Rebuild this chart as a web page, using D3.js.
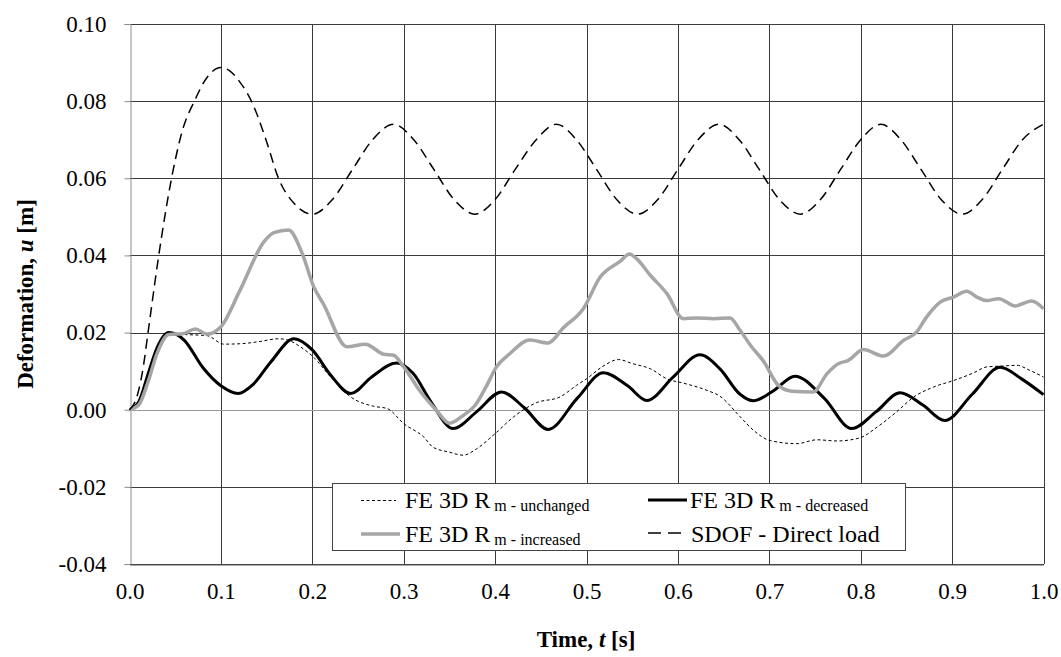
<!DOCTYPE html>
<html><head><meta charset="utf-8">
<script src="https://cdn.jsdelivr.net/npm/d3@7"></script>
<style>
body{margin:0;background:#fff;}
svg{display:block;}
svg text{font-family:"Liberation Serif","Times New Roman",serif;}
</style></head>
<body><svg id="c" width="1061" height="657"></svg>
<script>
const xTicks=[0,0.1,0.2,0.3,0.4,0.5,0.6,0.7,0.8,0.9,1.0];
const yTicks=[-0.04,-0.02,0,0.02,0.04,0.06,0.08,0.10];

const unchanged=[[0,0],[0.01,0.002],[0.02,0.009],[0.03,0.016],[0.043,0.0198],[0.06,0.0195],[0.085,0.0192],[0.103,0.017],[0.121,0.0171],[0.143,0.0177],[0.163,0.0184],[0.174,0.018],[0.187,0.0163],[0.201,0.0137],[0.22,0.0085],[0.242,0.0033],[0.267,0.0009],[0.282,0.0003],[0.3,-0.0036],[0.322,-0.0071],[0.332,-0.0097],[0.35,-0.011],[0.365,-0.0118],[0.38,-0.0101],[0.4,-0.0062],[0.42,-0.0019],[0.445,0.0018],[0.471,0.0033],[0.489,0.0063],[0.5,0.008],[0.517,0.0111],[0.535,0.013],[0.551,0.0119],[0.57,0.0106],[0.588,0.008],[0.606,0.0069],[0.632,0.005],[0.646,0.0035],[0.668,-0.0018],[0.683,-0.0054],[0.701,-0.008],[0.73,-0.0088],[0.752,-0.0078],[0.774,-0.0081],[0.799,-0.0073],[0.818,-0.0045],[0.839,-0.0006],[0.858,0.0033],[0.88,0.0059],[0.902,0.0076],[0.923,0.0095],[0.938,0.0111],[0.953,0.0113],[0.971,0.0115],[0.985,0.0102],[1.0,0.0085]];

const decreased=[[0,0],[0.01,0.002],[0.02,0.009],[0.03,0.016],[0.043,0.020],[0.06,0.018],[0.08,0.011],[0.1,0.0062],[0.119,0.0042],[0.135,0.0065],[0.155,0.0125],[0.18,0.0184],[0.2,0.0155],[0.22,0.009],[0.242,0.0042],[0.265,0.0085],[0.292,0.0121],[0.31,0.0095],[0.33,0.002],[0.354,-0.0049],[0.38,-0.0005],[0.407,0.0046],[0.432,0.0005],[0.458,-0.0051],[0.49,0.003],[0.5185,0.0096],[0.545,0.0062],[0.566,0.0024],[0.595,0.0085],[0.624,0.01425],[0.646,0.0106],[0.668,0.004],[0.6825,0.0023],[0.705,0.005],[0.728,0.0087],[0.76,0.003],[0.79,-0.0049],[0.817,-0.0005],[0.843,0.0044],[0.868,0.0012],[0.892,-0.0028],[0.922,0.004],[0.9526,0.011],[0.976,0.008],[1.0,0.0039]];

const increased=[[0,0],[0.01,0.0012],[0.02,0.007],[0.03,0.0145],[0.043,0.0195],[0.058,0.0197],[0.072,0.0209],[0.085,0.0196],[0.1,0.0215],[0.121,0.031],[0.147,0.0435],[0.158,0.0459],[0.174,0.0466],[0.189,0.0405],[0.2015,0.0319],[0.212,0.0275],[0.238,0.0163],[0.258,0.017],[0.278,0.0144],[0.289,0.0141],[0.3,0.0111],[0.318,0.0048],[0.336,-0.0002],[0.35,-0.0035],[0.365,-0.0015],[0.378,0.0011],[0.39,0.0059],[0.4015,0.0111],[0.416,0.0145],[0.438,0.0181],[0.458,0.0173],[0.475,0.0213],[0.4965,0.0262],[0.515,0.0344],[0.537,0.0385],[0.547,0.0404],[0.555,0.0391],[0.57,0.0348],[0.588,0.0301],[0.606,0.0236],[0.621,0.0238],[0.639,0.0236],[0.657,0.0238],[0.668,0.0206],[0.681,0.0162],[0.693,0.0128],[0.71,0.0063],[0.7245,0.0048],[0.748,0.0046],[0.763,0.0093],[0.7755,0.0119],[0.7865,0.0128],[0.803,0.0156],[0.825,0.0139],[0.847,0.018],[0.861,0.0201],[0.872,0.024],[0.887,0.0279],[0.9015,0.0292],[0.916,0.0307],[0.927,0.0292],[0.938,0.0283],[0.951,0.0288],[0.969,0.0269],[0.987,0.0282],[1.0,0.0262]];

const sdof=[[0,0],[0.005,0.0015],[0.01,0.005],[0.015,0.011],[0.02,0.0195],[0.032,0.040],[0.046,0.060],[0.058,0.0725],[0.071,0.080],[0.085,0.0862],[0.1,0.0887],[0.11,0.0878],[0.12,0.0852],[0.134,0.0797],[0.15,0.0695],[0.163,0.060],[0.18,0.0535],[0.2,0.0507],[0.222,0.0545],[0.244,0.0623],[0.266,0.070],[0.289,0.074],[0.311,0.070],[0.333,0.0623],[0.355,0.0545],[0.378,0.0507],[0.4,0.0545],[0.422,0.0623],[0.445,0.070],[0.467,0.074],[0.489,0.070],[0.511,0.0623],[0.533,0.0545],[0.556,0.0507],[0.578,0.0545],[0.6,0.0623],[0.622,0.070],[0.645,0.074],[0.667,0.070],[0.689,0.0623],[0.711,0.0545],[0.734,0.0507],[0.756,0.0545],[0.778,0.0623],[0.8,0.070],[0.822,0.074],[0.844,0.070],[0.866,0.0623],[0.888,0.0545],[0.911,0.0507],[0.933,0.0545],[0.955,0.0623],[0.977,0.070],[1.0,0.074]];

const svg=d3.select("#c");
const x=d3.scaleLinear().domain([0,1]).range([129.5,1043.5]);
const y=d3.scaleLinear().domain([-0.04,0.10]).range([564,24]);
const SERIF='"Liberation Serif","Times New Roman",serif';

// grid
const g=svg.append("g");
g.selectAll("line.v").data(xTicks.slice(1)).join("line")
 .attr("x1",d=>Math.round(x(d))+0.5).attr("x2",d=>Math.round(x(d))+0.5)
 .attr("y1",y(0.10)).attr("y2",y(-0.04)).attr("stroke","#3a3a3a").attr("stroke-width",1);
g.selectAll("line.h").data(yTicks.filter(d=>d!==0)).join("line")
 .attr("x1",x(0)).attr("x2",x(1)+0.5)
 .attr("y1",d=>Math.round(y(d))+0.5).attr("y2",d=>Math.round(y(d))+0.5)
 .attr("stroke","#3a3a3a").attr("stroke-width",1);
g.append("line").attr("x1",x(0)).attr("x2",x(1)+0.5)
 .attr("y1",Math.round(y(0))+0.5).attr("y2",Math.round(y(0))+0.5)
 .attr("stroke","#9a9a9a").attr("stroke-width",1.2);

// axes
const fmtY=d=>d3.format(".2f")(d).replace("\u2212","-");
const yAxis=d3.axisLeft(y).tickValues(yTicks).tickFormat(fmtY).tickSize(6).tickPadding(18);
const ya=svg.append("g").attr("transform",`translate(${Math.round(x(0))+0.5},0)`).call(yAxis).attr("font-family",SERIF);
ya.select(".domain").attr("stroke","#8c8c8c");
ya.selectAll(".tick line").attr("stroke","#8c8c8c");
ya.selectAll("text").attr("font-size",23).attr("fill","#000");

const xAxis=d3.axisBottom(x).tickValues(xTicks).tickFormat(d3.format(".1f")).tickSize(0).tickPadding(18);
const xa=svg.append("g").attr("transform",`translate(0,${Math.round(y(-0.04))+0.5})`).call(xAxis).attr("font-family",SERIF);
xa.select(".domain").attr("stroke","#555");
xa.selectAll("text").attr("font-size",23).attr("fill","#000");

// series
const line=d3.line().x(d=>x(d[0])).y(d=>y(d[1])).curve(d3.curveMonotoneX);
svg.append("path").datum(unchanged).attr("d",line).attr("fill","none").attr("stroke","#000").attr("stroke-width",1).attr("stroke-dasharray","3,2.5");
svg.append("path").datum(decreased).attr("d",line).attr("fill","none").attr("stroke","#000").attr("stroke-width",3);
svg.append("path").datum(increased).attr("d",line).attr("fill","none").attr("stroke","#a6a6a6").attr("stroke-width",3.5);
svg.append("path").datum(sdof).attr("d",line).attr("fill","none").attr("stroke","#000").attr("stroke-width",1.5).attr("stroke-dasharray","10,6");

// legend
const lg=svg.append("g");
lg.append("rect").attr("x",332.5).attr("y",483.5).attr("width",573).attr("height",67)
 .attr("fill","#fff").attr("stroke","#444").attr("stroke-width",1);
const items=[
 {lx1:361,lx2:396,ly:500.5,tx:405,ty:508,main:"FE 3D R",sub:"m - unchanged",stroke:"#000",w:1,dash:"3,2.5"},
 {lx1:648,lx2:687,ly:500,tx:690,ty:508,main:"FE 3D R",sub:"m - decreased",stroke:"#000",w:3,dash:null},
 {lx1:361,lx2:400,ly:534,tx:405,ty:542,main:"FE 3D R",sub:"m - increased",stroke:"#a6a6a6",w:3.5,dash:null},
 {lx1:648,lx2:684,ly:533,tx:691,ty:542,main:"SDOF - Direct load",sub:null,stroke:"#000",w:1.5,dash:"13,7"}
];
items.forEach(it=>{
 const l=lg.append("line").attr("x1",it.lx1).attr("x2",it.lx2).attr("y1",it.ly).attr("y2",it.ly)
  .attr("stroke",it.stroke).attr("stroke-width",it.w);
 if(it.dash) l.attr("stroke-dasharray",it.dash);
 const t=lg.append("text").attr("x",it.tx).attr("y",it.ty).attr("font-size",24).attr("fill","#000");
 t.append("tspan").text(it.main);
 if(it.sub) t.append("tspan").attr("dx",4).attr("dy",3).attr("font-size",16).text(it.sub);
});

// axis titles
const xt=svg.append("text").attr("x",586).attr("y",647).attr("text-anchor","middle")
 .attr("font-size",23).attr("font-weight","bold");
xt.append("tspan").text("Time, ");
xt.append("tspan").attr("font-style","italic").text("t");
xt.append("tspan").text(" [s]");
const yt=svg.append("text").attr("transform","translate(33,294) rotate(-90)").attr("text-anchor","middle")
 .attr("font-size",23).attr("font-weight","bold");
yt.append("tspan").text("Deformation, ");
yt.append("tspan").attr("font-style","italic").text("u");
yt.append("tspan").text(" [m]");
</script></body></html>
